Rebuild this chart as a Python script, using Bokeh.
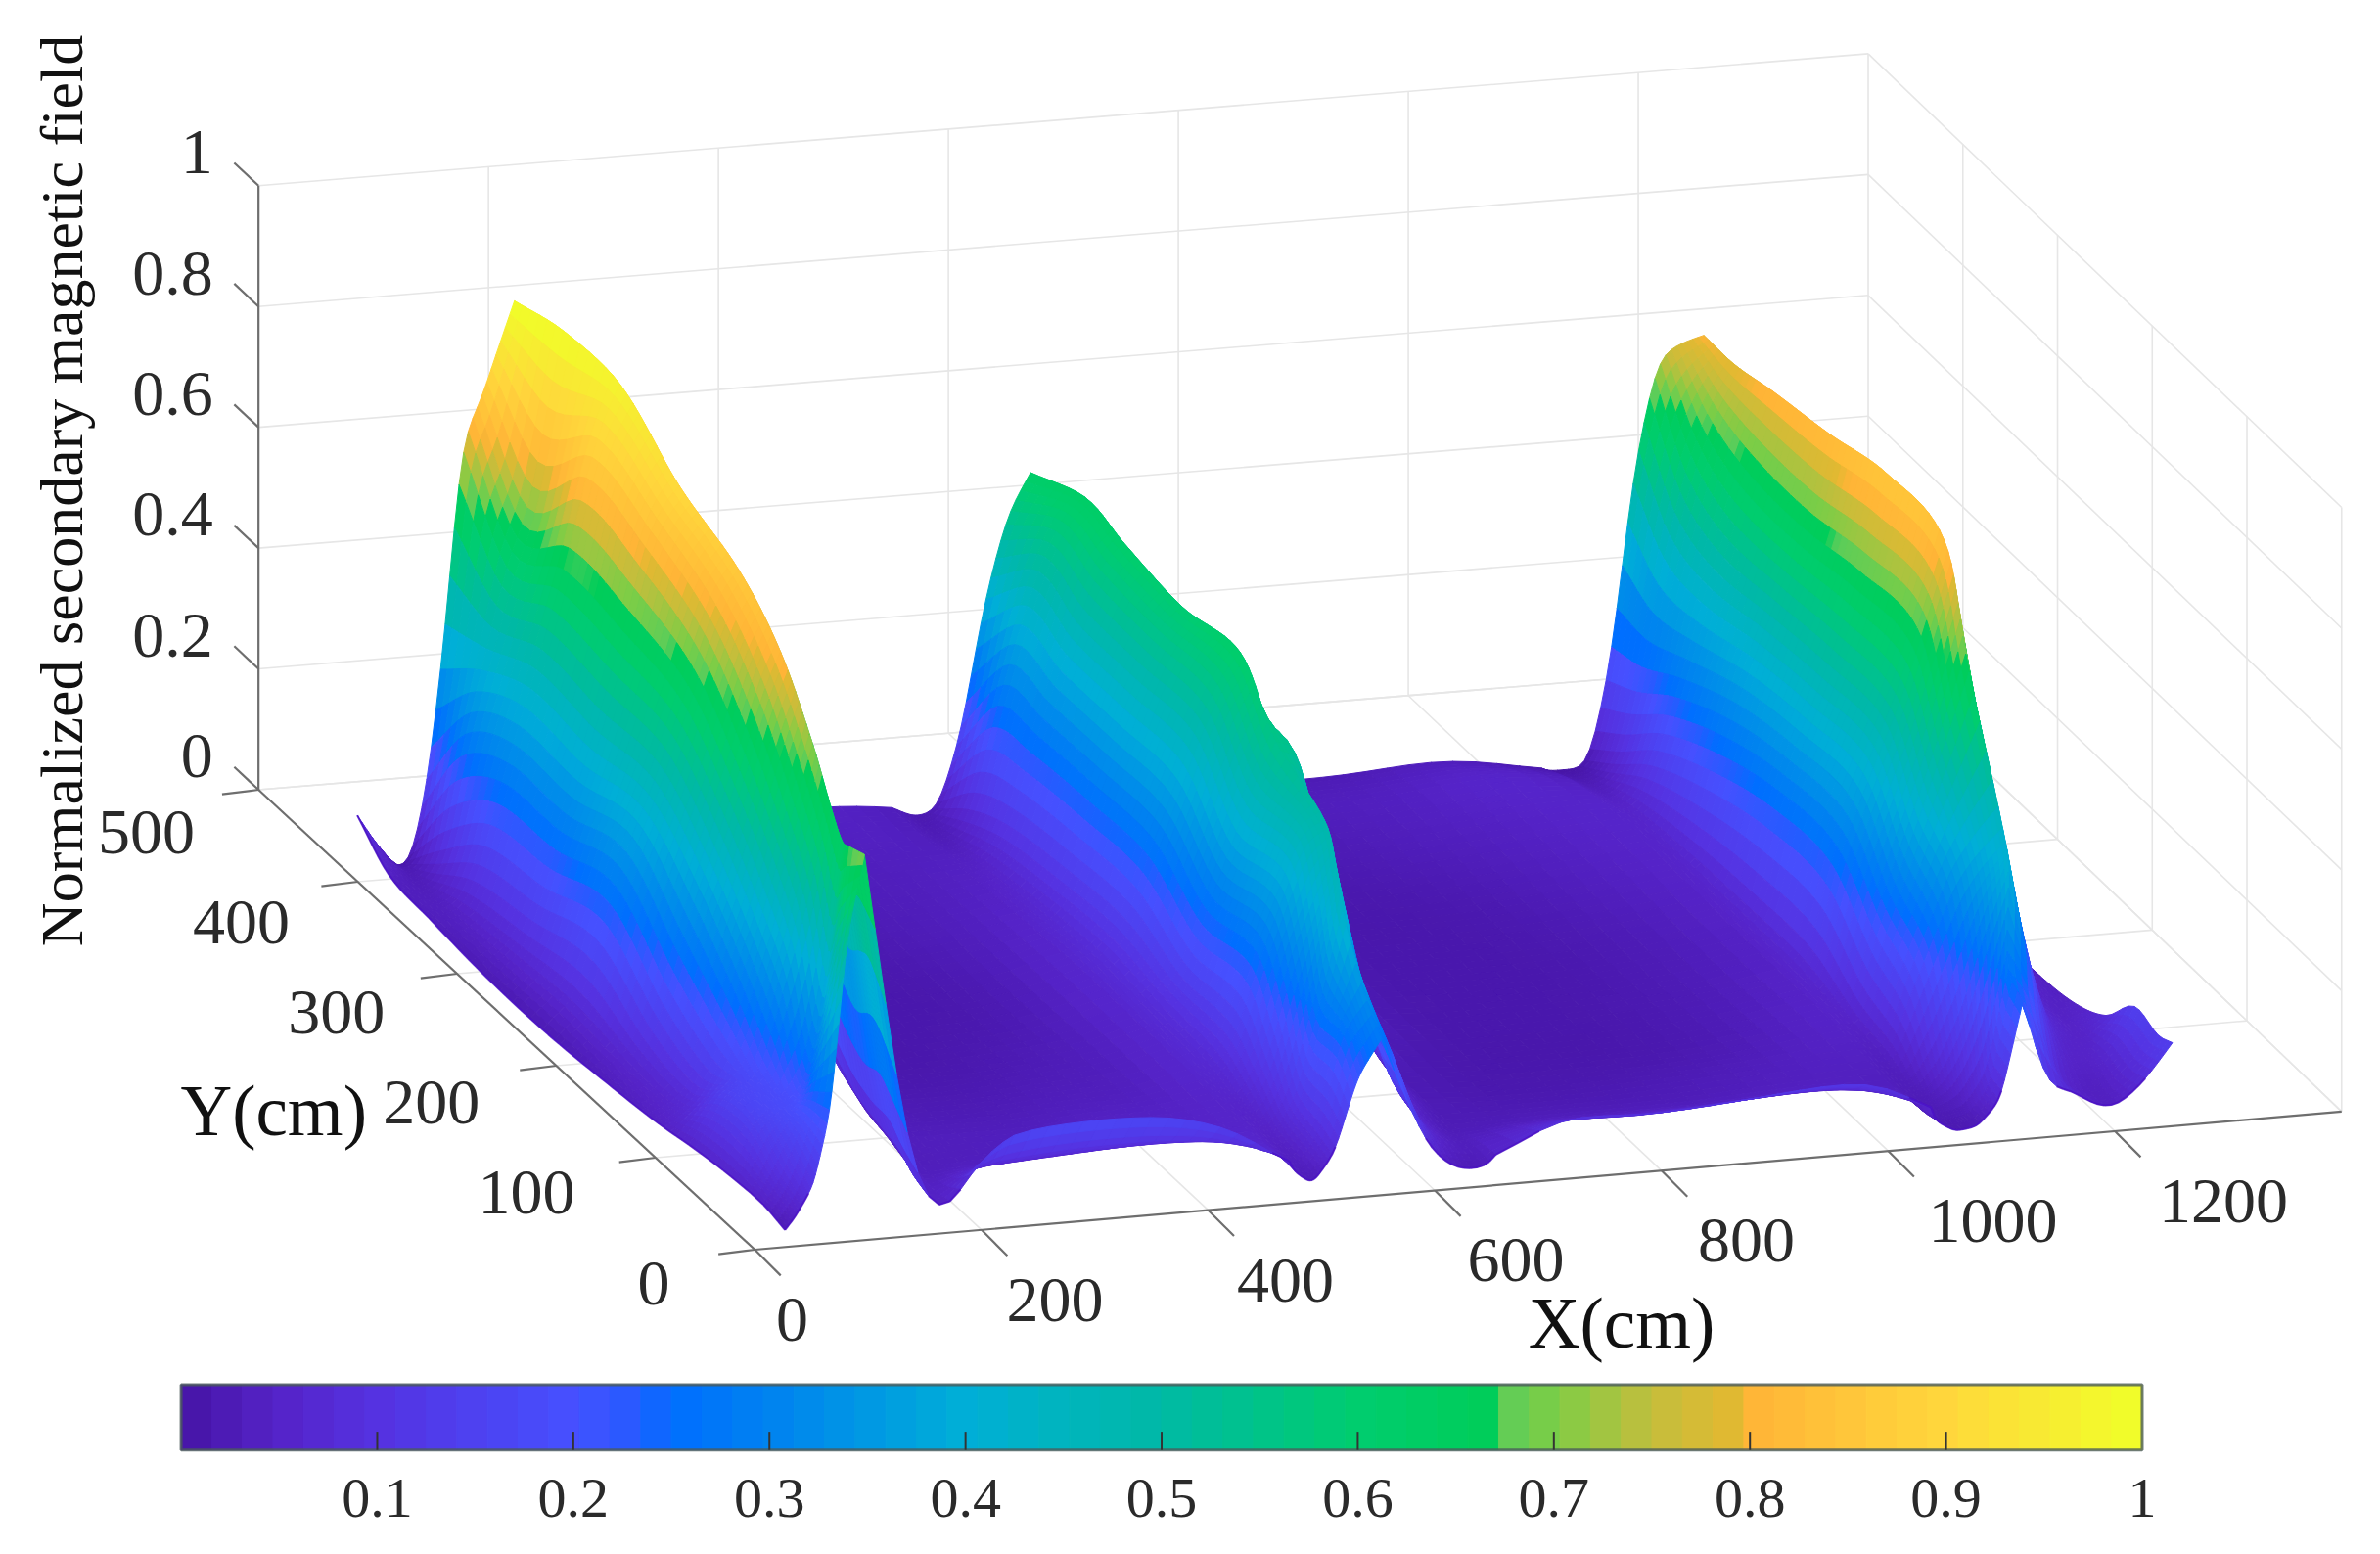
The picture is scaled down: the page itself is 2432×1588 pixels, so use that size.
import math
import numpy as np
from bokeh.plotting import figure
from bokeh.models import Range1d
from bokeh.core.properties import value
from bokeh.embed import file_html
from bokeh.resources import INLINE

# ---------- data ----------
y_rows = [5, 20, 45, 75, 110, 160, 220, 280, 340, 380, 412]
x_left = [31, 25, 18, 13, 11, 10, 10, 10, 10, 10, 10]
x_cols = [40, 56, 71, 86, 101, 116, 132, 147, 162, 177, 192,
          233, 304, 374, 435, 476,
          496, 516, 536, 557, 577, 597, 617, 638, 658,
          708, 789, 870, 951, 1012, 1042,
          1063, 1083, 1103, 1123, 1144, 1164, 1184, 1204, 1230, 1255]
z_ridge1 = [
 [.02,.04,.09,.21,.50,.63,.45,.18,.07,.02,.02,.09],
 [.04,.08,.15,.22,.40,.62,.55,.22,.08,.03,.02,.06],
 [.05,.14,.16,.17,.21,.35,.59,.45,.18,.06,.02,.03],
 [.05,.14,.15,.17,.27,.36,.47,.60,.35,.12,.03,.03],
 [.04,.07,.12,.20,.28,.36,.45,.55,.645,.35,.06,.03],
 [.03,.06,.13,.22,.32,.39,.47,.56,.66,.72,.35,.08],
 [.02,.07,.18,.27,.35,.41,.49,.57,.66,.73,.763,.30],
 [.02,.06,.14,.24,.32,.40,.50,.60,.72,.78,.81,.40],
 [.03,.04,.11,.23,.32,.41,.51,.61,.74,.83,.887,.45],
 [.04,.02,.06,.22,.33,.45,.56,.62,.78,.917,.75,.20],
 [.09,.00,.00,.13,.37,.70,.75,.84,.92,.60,.20,.05],
]
z_valley1 = [
 [.15,.158,.153,.118,.05],
 [.08,.09,.09,.08,.05],
 [.035,.04,.05,.05,.05],
 [.03,.03,.04,.04,.05],
 [.02,.02,.03,.03,.06],
 [.01,.01,.02,.03,.06],
 [.01,.01,.01,.03,.06],
 [.01,.01,.02,.03,.05],
 [.02,.02,.03,.03,.04],
 [.03,.03,.03,.04,.03],
 [.04,.04,.04,.04,.03],
]
z_ridge2 = [
 [.02,.07,.19,.25,.155,.07,.03,.02,.03],
 [.03,.08,.24,.29,.22,.10,.05,.03,.03],
 [.04,.10,.24,.40,.25,.12,.06,.03,.02],
 [.05,.11,.24,.34,.427,.25,.10,.04,.02],
 [.06,.12,.24,.34,.43,.447,.20,.06,.02],
 [.07,.12,.23,.33,.43,.50,.49,.13,.03],
 [.07,.12,.23,.33,.43,.51,.555,.20,.03],
 [.06,.11,.23,.33,.43,.51,.54,.18,.03],
 [.04,.09,.22,.33,.43,.52,.555,.15,.03],
 [.02,.05,.20,.34,.46,.54,.57,.12,.02],
 [.01,.02,.14,.36,.50,.565,.50,.10,.02],
]
z_valley2 = [
 [.10,.085,.095,.11,.11,.04],
 [.07,.06,.07,.08,.08,.03],
 [.03,.03,.03,.04,.04,.03],
 [.015,.015,.02,.03,.04,.04],
 [.01,.01,.01,.02,.04,.05],
 [.01,.01,.01,.02,.03,.05],
 [.01,.01,.01,.02,.03,.05],
 [.01,.01,.015,.03,.04,.05],
 [.015,.02,.03,.04,.05,.05],
 [.02,.03,.03,.05,.05,.03],
 [.02,.02,.02,.035,.02,.00],
]
z_ridge3 = [
 [.015,.02,.06,.22,.07,.07,.04,.03,.07,.13],
 [.02,.03,.08,.25,.20,.06,.04,.03,.06,.12],
 [.025,.07,.15,.27,.37,.18,.06,.04,.05,.13],
 [.03,.13,.22,.31,.36,.395,.19,.06,.04,.07],
 [.04,.18,.28,.38,.49,.60,.42,.10,.04,.04],
 [.05,.22,.32,.41,.50,.62,.74,.45,.08,.03],
 [.05,.22,.32,.41,.51,.62,.76,.50,.10,.03],
 [.05,.18,.30,.40,.50,.60,.735,.50,.10,.03],
 [.04,.12,.25,.38,.50,.61,.716,.50,.10,.03],
 [.02,.05,.20,.40,.55,.64,.70,.50,.10,.03],
 [.00,.00,.17,.49,.67,.69,.70,.50,.10,.03],
]
x_ticks = [0, 200, 400, 600, 800, 1000, 1200]
y_ticks = [0, 100, 200, 300, 400, 500]
z_ticks = [0, 0.2, 0.4, 0.6, 0.8, 1]
z_tick_labels = ["0", "0.2", "0.4", "0.6", "0.8", "1"]
cbar_ticks = [0.1, 0.2, 0.3, 0.4, 0.5, 0.6, 0.7, 0.8, 0.9, 1]
cbar_labels = ["0.1", "0.2", "0.3", "0.4", "0.5", "0.6", "0.7", "0.8", "0.9", "1"]
x_max, y_max = 1400, 500
z_title = "Normalized secondary magnetic field"
# the surface's colour value against its height
height_key = [0, .6, .7, .8, .92]
colour_key = [0, .66, .8, .9, 1]

cmap_pos = [0, .05, .1, .2, .23, .25, .3, .4, .5, .6, .665, .672, .7, .75, .79, .8, .9, 1]
cmap_r = [70, 85, 85, 70, 40, 0, 0, 0, 0, 0, 0, 90, 125, 195, 225, 255, 255, 240]
cmap_g = [20, 35, 50, 80, 90, 110, 130, 175, 185, 205, 205, 205, 205, 190, 185, 180, 215, 255]
cmap_b = [165, 200, 225, 255, 255, 255, 240, 215, 165, 110, 90, 90, 70, 60, 50, 55, 60, 40]


def colour(v):
    return "#%02x%02x%02x" % tuple(int(round(np.interp(v, cmap_pos, c))) for c in (cmap_r, cmap_g, cmap_b))


# view of the 3D box, in units of the 1568 wide picture
def px(X, Y, Z=0.0):
    return 497 + .7467 * X - .654 * Y + 2.16e-5 * X * Y

def py(X, Y, Z=0.0):
    return 823 - .065 * X - .606 * Y + 5.8e-6 * X * Y - 398 * Z


SCALE = 2432 / 1568
W, H = 2416, 1572
p = figure(width=W, height=H, output_backend="svg", toolbar_location=None,
           x_range=Range1d(0, W / SCALE), y_range=Range1d(H / SCALE, 0),
           min_border=0, outline_line_color=None, background_fill_color="white")
p.axis.visible = False
p.grid.visible = False

GRID = "#e6e6e6"
AXIS = "#6e6e6e"

# ---------- box grid ----------
gx, gy = [], []
for X in x_ticks[1:] + [x_max]:
    gx.append([px(X, 0), px(X, y_max)])
    gy.append([py(X, 0), py(X, y_max)])
    gx.append([px(X, y_max), px(X, y_max)])
    gy.append([py(X, y_max, 0), py(X, y_max, 1)])
for Y in y_ticks[1:]:
    gx.append([px(0, Y), px(x_max, Y)])
    gy.append([py(0, Y), py(x_max, Y)])
for Z in z_ticks:
    gx.append([px(0, y_max), px(x_max, y_max)])
    gy.append([py(0, y_max, Z), py(x_max, y_max, Z)])
    gx.append([px(x_max, y_max), px(x_max, 0)])
    gy.append([py(x_max, y_max, Z), py(x_max, 0, Z)])
for Y in y_ticks[:-1]:
    gx.append([px(x_max, Y), px(x_max, Y)])
    gy.append([py(x_max, Y, 0), py(x_max, Y, 1)])
p.multi_line(gx, gy, line_color=GRID, line_width=1.6)

# ---------- axes ----------
ax = [[px(0, 0), px(x_max, 0)], [px(0, 0), px(0, y_max)], [px(0, y_max), px(0, y_max)]]
ay = [[py(0, 0), py(x_max, 0)], [py(0, 0), py(0, y_max)], [py(0, y_max, 0), py(0, y_max, 1)]]
for X in x_ticks:
    ax.append([px(X, 0), px(X, 0) + 17])
    ay.append([py(X, 0), py(X, 0) + 17])
for Y in y_ticks:
    ax.append([px(0, Y), px(0, Y) - 24])
    ay.append([py(0, Y), py(0, Y) + 3])
for Z in z_ticks:
    ax.append([px(0, y_max), px(0, y_max) - 16])
    ay.append([py(0, y_max, Z), py(0, y_max, Z) - 15])
p.multi_line(ax, ay, line_color=AXIS, line_width=2.2)

# ---------- surface ----------
Zg = np.hstack([np.array(z_ridge1), np.array(z_valley1), np.array(z_ridge2),
                np.array(z_valley2), np.array(z_ridge3)])
Xg = np.array([[xl] + x_cols for xl in x_left], float)
rows = np.array(y_rows, float)

# a mesh whose columns follow the crest of each ridge from row to row
seg_counts = [34, 14, 16, 28, 18, 20, 30, 22]
mesh_x, mesh_z = [], []
for i in range(len(rows)):
    rx, rz = Xg[i], Zg[i]
    p1 = int(np.argmax(rz[:12]))
    p2 = 17 + int(np.argmax(rz[17:26]))
    p3 = 32 + int(np.argmax(rz[32:42]))
    land = [0, p1, 12, 16, p2, 25, 31, p3, 41]
    xs_row = [rx[0]]
    keep = [0]
    for a, b, n in zip(land[:-1], land[1:], seg_counts):
        xs_row += list(np.linspace(rx[a], rx[b], n + 1)[1:])
        keep.append(len(xs_row) - 1)
    xs_row = np.array(xs_row)
    zs_row = np.interp(xs_row, rx, rz)
    for _ in range(5):
        z2 = zs_row.copy()
        z2[1:-1] = .2 * zs_row[:-2] + .6 * zs_row[1:-1] + .2 * zs_row[2:]
        for pk in (keep[1], keep[4], keep[7]):
            z2[pk] = zs_row[pk]
        zs_row = z2
    mesh_x.append(xs_row)
    mesh_z.append(zs_row)
mesh_x = np.array(mesh_x)
mesh_z = np.array(mesh_z)

# Hermite shading between the rows
def row_slope(A):
    m = np.zeros_like(A)
    m[0] = (A[1] - A[0]) / (rows[1] - rows[0])
    m[-1] = (A[-1] - A[-2]) / (rows[-1] - rows[-2])
    for k in range(1, len(rows) - 1):
        m[k] = (A[k + 1] - A[k - 1]) / (rows[k + 1] - rows[k - 1])
    return m

mx_s, mz_s = row_slope(mesh_x), row_slope(mesh_z)
fx, fz, fy = [], [], []
for k in range(len(rows) - 1):
    h = rows[k + 1] - rows[k]
    n = max(3, math.ceil(h / 6))
    for t in np.linspace(0, 1, n, endpoint=False):
        a, b, c, d = 2*t**3 - 3*t**2 + 1, (t**3 - 2*t**2 + t) * h, -2*t**3 + 3*t**2, (t**3 - t**2) * h
        fx.append(a * mesh_x[k] + b * mx_s[k] + c * mesh_x[k + 1] + d * mx_s[k + 1])
        fz.append(a * mesh_z[k] + b * mz_s[k] + c * mesh_z[k + 1] + d * mz_s[k + 1])
        fy.append(rows[k] + t * h)
fx.append(mesh_x[-1]); fz.append(mesh_z[-1]); fy.append(rows[-1])
fx, fz = np.array(fx), np.clip(np.array(fz), 0, None)
fy = np.array(fy)[:, None] * np.ones_like(fx)
SX, SY = px(fx, fy), py(fx, fy, fz)

xs, ys, fills = [], [], []
for k in range(fx.shape[0] - 2, -1, -1):
    for j in range(fx.shape[1] - 2, -1, -1):
        xs.append([SX[k, j], SX[k, j + 1], SX[k + 1, j + 1], SX[k + 1, j]])
        ys.append([SY[k, j], SY[k, j + 1], SY[k + 1, j + 1], SY[k + 1, j]])
        m = (fz[k, j] + fz[k, j + 1] + fz[k + 1, j + 1] + fz[k + 1, j]) / 4
        fills.append(colour(np.interp(m, height_key, colour_key)))
p.patches(xs, ys, fill_color=fills, line_color=fills, line_width=1)

# dark rim of the low parts of the near edges
rim_x, rim_y = [], []
for j in range(fx.shape[1] - 1):
    if fz[0, j] < .08 and fz[0, j + 1] < .08:
        rim_x.append([SX[0, j], SX[0, j + 1]])
        rim_y.append([SY[0, j], SY[0, j + 1]])
for k in range(fx.shape[0] - 1):
    rim_x.append([SX[k, 0], SX[k + 1, 0]])
    rim_y.append([SY[k, 0], SY[k + 1, 0]])
p.multi_line(rim_x, rim_y, line_color="#4a10c4", line_width=2, line_alpha=.8)

# ---------- tick labels and titles ----------
FONT = value("Liberation Serif")
TXT = "#2a2a2a"
p.text([px(X, 0) + 14 + .0125 * X for X in x_ticks], [py(X, 0) + 46 for X in x_ticks], text=[str(t) for t in x_ticks],
       text_font=FONT, text_font_size="66px", text_color=TXT, text_align="left", text_baseline="middle")
p.text([px(0, Y) - 56 + .028 * Y for Y in y_ticks], [py(0, Y) + 22 + .012 * Y for Y in y_ticks], text=[str(t) for t in y_ticks],
       text_font=FONT, text_font_size="66px", text_color=TXT, text_align="right", text_baseline="middle")
p.text([px(0, y_max) - 30 for Z in z_ticks], [py(0, y_max, Z) - 22 for Z in z_ticks], text=z_tick_labels,
       text_font=FONT, text_font_size="66px", text_color=TXT, text_align="right", text_baseline="middle")
p.text([1068], [872], text=["X(cm)"], text_font=FONT, text_font_size="73px", text_color="#111111",
       text_align="center", text_baseline="middle")
p.text([180], [732], text=["Y(cm)"], text_font=FONT, text_font_size="73px", text_color="#111111",
       text_align="center", text_baseline="middle")
p.text([40], [323], text=[z_title], angle=[math.pi / 2], text_font=FONT, text_font_size="62px",
       text_color="#111111", text_align="center", text_baseline="middle")

# ---------- colour bar ----------
BL, BR, BT, BB = 119, 1411, 912, 955
levels = np.arange(64) / 64
bar_fill = [colour(v + 1 / 128) for v in levels]
p.quad(left=BL + levels * (BR - BL), right=BL + (levels + 1 / 64) * (BR - BL), top=BT, bottom=BB,
       fill_color=bar_fill, line_color=bar_fill, line_width=1)
p.quad(left=[BL], right=[BR], top=[BT], bottom=[BB], fill_color=None, line_color="#4a5a5a", line_width=3, line_alpha=.8)
p.segment([BL + t * (BR - BL) for t in cbar_ticks[:-1]], BB, [BL + t * (BR - BL) for t in cbar_ticks[:-1]], BB - 12,
          line_color="#333333", line_width=2)
p.text([BL + t * (BR - BL) for t in cbar_ticks], [987] * len(cbar_ticks), text=cbar_labels, text_font=FONT,
       text_font_size="58px", text_color=TXT, text_align="center", text_baseline="middle")

open("out.html", "w").write(file_html(p, INLINE))
